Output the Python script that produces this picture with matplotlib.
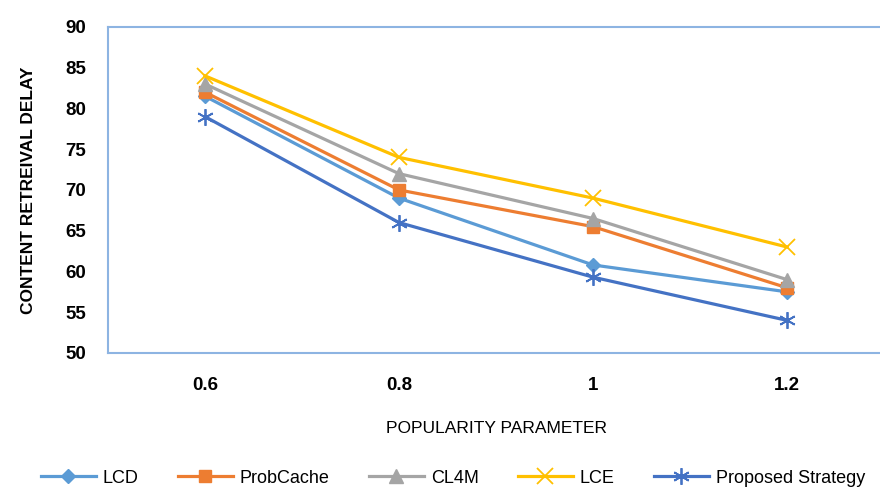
import matplotlib
matplotlib.use("Agg")
import matplotlib.pyplot as plt
import numpy as np

# popularity parameter categories
categories = ["0.6", "0.8", "1", "1.2"]

# content retrieval delay per strategy
lcd = [81.5, 69, 60.8, 57.5]
probcache = [82, 70, 65.5, 58]
cl4m = [83, 72, 66.5, 59]
lce = [84, 74, 69, 63]
proposed = [79, 66, 59.3, 54]

plt.rcParams['font.family'] = ['Liberation Sans Narrow', 'Liberation Sans', 'DejaVu Sans']

fig = plt.figure(figsize=(8.8, 4.9), dpi=100)
ax = fig.add_axes([0.1227, 0.2796, 0.882, 0.6654])

x = np.arange(len(categories)) + 0.5
series = [
    ("LCD", lcd, "#5B9BD5", dict(marker="D", markersize=7)),
    ("ProbCache", probcache, "#ED7D31", dict(marker="s", markersize=9)),
    ("CL4M", cl4m, "#A5A5A5", dict(marker="^", markersize=10)),
    ("LCE", lce, "#FFC000", dict(marker="x", markersize=11, markeredgewidth=1.3)),
    ("Proposed Strategy", proposed, "#4472C4",
     dict(marker=(6, 2, 0), markersize=12, markeredgewidth=1.3)),
]
for name, vals, col, mk in series:
    ax.plot(x, vals, color=col, lw=2.3, label=name, markerfacecolor=col,
            markeredgecolor=col, **mk)

ax.set_xlim(0, 4)
ax.set_ylim(50, 90)
ax.set_yticks(np.arange(50, 91, 5))
ax.set_xticks(x)
ax.set_xticklabels(categories)
for s in ax.spines.values():
    s.set_color("#8DB4E2")
    s.set_linewidth(1.5)
ax.tick_params(length=0)
ax.tick_params(axis='y', pad=16, labelsize=13.5)
ax.tick_params(axis='x', pad=17, labelsize=13.5)
for lab in ax.get_xticklabels() + ax.get_yticklabels():
    lab.set_fontweight("bold")

ax.set_ylabel("CONTENT RETREIVAL DELAY", fontsize=12.5, fontweight="bold")
ax.yaxis.set_label_coords(-0.093, 0.5)
ax.set_xlabel("POPULARITY PARAMETER", fontsize=12.5)
ax.xaxis.set_label_coords(0.5, -0.21)

fig.legend(loc="center", bbox_to_anchor=(0.515, 0.024), ncol=5, frameon=False,
           fontsize=13, handlelength=3.0, columnspacing=2.2, handletextpad=0.4)

fig.savefig("out.png", dpi=100)
